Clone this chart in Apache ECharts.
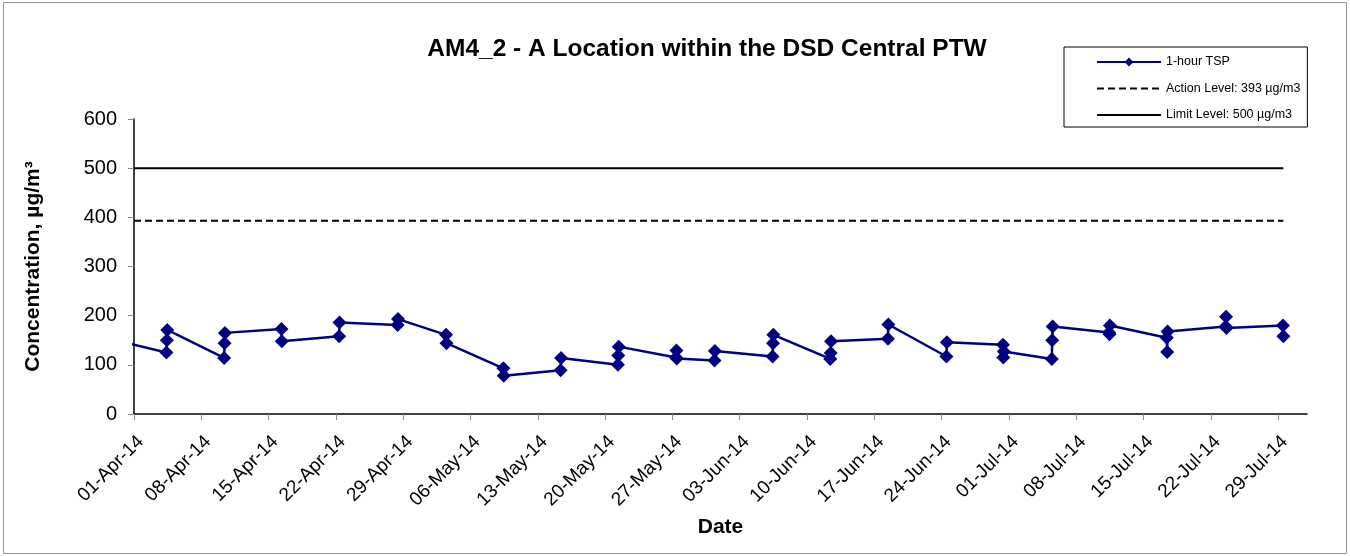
<!DOCTYPE html>
<html>
<head>
<meta charset="utf-8">
<title>AM4_2 - 1-hour TSP</title>
<script src="https://cdn.jsdelivr.net/npm/echarts@6/dist/echarts.min.js"></script>
<style>
  html, body { margin: 0; padding: 0; background: #fff; }
  #chart { width: 1350px; height: 556px; }
</style>
</head>
<body>
<div id="chart"></div>
<script>
// 1-hour TSP samples (first one is before the axis start, so only its line shows)
var sampleTimes = [
  '2014-03-29 10:00',
  '2014-04-04 09:00', '2014-04-04 10:00', '2014-04-04 11:00',
  '2014-04-10 09:00', '2014-04-10 10:00', '2014-04-10 11:00',
  '2014-04-16 08:00', '2014-04-16 09:00',
  '2014-04-22 08:00', '2014-04-22 09:00',
  '2014-04-28 10:00', '2014-04-28 11:00',
  '2014-05-03 11:00', '2014-05-03 12:00',
  '2014-05-09 10:00', '2014-05-09 11:00',
  '2014-05-15 09:00', '2014-05-15 10:00',
  '2014-05-21 08:00', '2014-05-21 09:00', '2014-05-21 10:00',
  '2014-05-27 09:00', '2014-05-27 10:00', '2014-05-27 11:00',
  '2014-05-31 09:00', '2014-05-31 10:00',
  '2014-06-06 10:00', '2014-06-06 11:00', '2014-06-06 12:00',
  '2014-06-12 10:00', '2014-06-12 11:00', '2014-06-12 12:00',
  '2014-06-18 10:00', '2014-06-18 11:00',
  '2014-06-24 12:00', '2014-06-24 13:00',
  '2014-06-30 09:00', '2014-06-30 10:00', '2014-06-30 11:00',
  '2014-07-05 11:00', '2014-07-05 12:00', '2014-07-05 13:00',
  '2014-07-11 10:00', '2014-07-11 11:00', '2014-07-11 12:00',
  '2014-07-17 10:00', '2014-07-17 11:00', '2014-07-17 12:00',
  '2014-07-23 13:00', '2014-07-23 14:00', '2014-07-23 15:00',
  '2014-07-29 12:00', '2014-07-29 13:00'
];
var tspValues = [
  153,
  125, 150, 171,
  114, 144, 165,
  173, 148,
  158, 186,
  181, 193,
  161, 144,
  93, 78,
  89, 114,
  100, 119, 137,
  115, 129, 113,
  109, 128,
  117, 144, 161,
  112, 124, 148,
  153, 182,
  117, 146,
  141, 115, 127,
  112, 150, 178,
  166, 162, 180,
  155, 126, 168,
  178, 198, 175,
  180, 158
];

// criteria lines
var levelTimes = ['2014-04-01 00:00', '2014-07-29 13:00'];
var actionLevel = 393;
var limitLevel = 500;

// x axis
var axisStart = '2014-04-01 00:00';
var axisEnd = '2014-08-01 00:00';
var xTickDates = [
  '2014-04-01', '2014-04-08', '2014-04-15', '2014-04-22', '2014-04-29',
  '2014-05-06', '2014-05-13', '2014-05-20', '2014-05-27', '2014-06-03',
  '2014-06-10', '2014-06-17', '2014-06-24', '2014-07-01', '2014-07-08',
  '2014-07-15', '2014-07-22', '2014-07-29'
];

var MONTHS = ['Jan','Feb','Mar','Apr','May','Jun','Jul','Aug','Sep','Oct','Nov','Dec'];
var FONT = 'Liberation Sans, Arial, Helvetica, sans-serif';

function toTime(s){
  var p = s.split(/[- :]/);
  return Date.UTC(+p[0], +p[1] - 1, +p[2], +(p[3] || 0), +(p[4] || 0));
}
function pad(n){
  return n < 10 ? '0' + n : '' + n;
}
function fmtDate(v){
  var d = new Date(v);
  return pad(d.getUTCDate()) + '-' + MONTHS[d.getUTCMonth()] + '-' + pad(d.getUTCFullYear() % 100);
}

var tspData = [];
for( var i = 0 ; i < sampleTimes.length ; i++ ){
  tspData.push([toTime(sampleTimes[i]), tspValues[i]]);
}
var actionData = [];
var limitData = [];
for( var j = 0 ; j < levelTimes.length ; j++ ){
  actionData.push([toTime(levelTimes[j]), actionLevel]);
  limitData.push([toTime(levelTimes[j]), limitLevel]);
}
var xTicks = xTickDates.map(toTime);

var chart = echarts.init(document.getElementById('chart'));
chart.setOption({
  animation: false,
  backgroundColor: '#fff',
  textStyle: { fontFamily: FONT },
  title: {
    text: 'AM4_2 - A Location within the DSD Central PTW',
    left: 702,
    top: 32,
    textAlign: 'center',
    textStyle: { fontFamily: FONT, fontSize: 24.5, fontWeight: 'bold', color: '#000' }
  },
  legend: {
    orient: 'vertical',
    left: 1064,
    top: 47,
    align: 'left',
    padding: [8, 7, 5, 32],
    itemWidth: 64,
    itemHeight: 11,
    itemGap: 12.5,
    backgroundColor: '#fff',
    borderColor: '#000',
    borderWidth: 1,
    textStyle: { fontFamily: FONT, fontSize: 12.5, lineHeight: 14, color: '#000' },
    data: [
      { name: '1-hour TSP' },
      { name: 'Action Level: 393 µg/m3', itemStyle: { opacity: 0 } },
      { name: 'Limit Level: 500 µg/m3', itemStyle: { opacity: 0 } }
    ]
  },
  grid: {
    left: 134,
    right: 43,
    top: 119,
    bottom: 142,
    containLabel: false
  },
  xAxis: {
    type: 'value',
    min: toTime(axisStart),
    max: toTime(axisEnd),
    name: 'Date',
    nameLocation: 'middle',
    nameGap: 100,
    nameTextStyle: { fontFamily: FONT, fontSize: 21, fontWeight: 'bold', color: '#000' },
    axisLine: { show: true, lineStyle: { color: '#000', width: 1.5 } },
    axisTick: { show: true, length: 6, customValues: xTicks, lineStyle: { color: '#888' } },
    axisLabel: {
      customValues: xTicks,
      rotate: 45,
      margin: 18,
      verticalAlign: 'top',
      fontFamily: FONT,
      fontSize: 19,
      color: '#000',
      formatter: fmtDate
    },
    splitLine: { show: false }
  },
  yAxis: {
    type: 'value',
    min: 0,
    max: 600,
    interval: 100,
    name: 'Concentration, µg/m³',
    nameLocation: 'middle',
    nameGap: 90,
    nameTextStyle: { fontFamily: FONT, fontSize: 21, fontWeight: 'bold', color: '#000' },
    axisLine: { show: true, lineStyle: { color: '#000', width: 1.5 } },
    axisTick: { show: true, length: 6, lineStyle: { color: '#888' } },
    axisLabel: { margin: 17, fontFamily: FONT, fontSize: 20, color: '#000' },
    splitLine: { show: false }
  },
  series: [
    {
      name: '1-hour TSP',
      type: 'line',
      data: tspData,
      clip: true,
      symbol: 'diamond',
      symbolSize: 14,
      color: '#000080',
      itemStyle: { color: '#000080' },
      lineStyle: { color: '#000080', width: 2.5 },
      z: 3
    },
    {
      name: 'Action Level: 393 µg/m3',
      type: 'line',
      data: actionData,
      symbol: 'none',
      color: '#000',
      lineStyle: { color: '#000', width: 2, type: [7, 4] },
      z: 2
    },
    {
      name: 'Limit Level: 500 µg/m3',
      type: 'line',
      data: limitData,
      symbol: 'none',
      color: '#000',
      lineStyle: { color: '#000', width: 2 },
      z: 2
    }
  ],
  graphic: [
    {
      type: 'rect',
      shape: { x: 3.5, y: 2.5, width: 1343, height: 551 },
      style: { fill: null, stroke: '#999', lineWidth: 1 },
      silent: true,
      z: -10
    }
  ]
});
</script>
</body>
</html>
